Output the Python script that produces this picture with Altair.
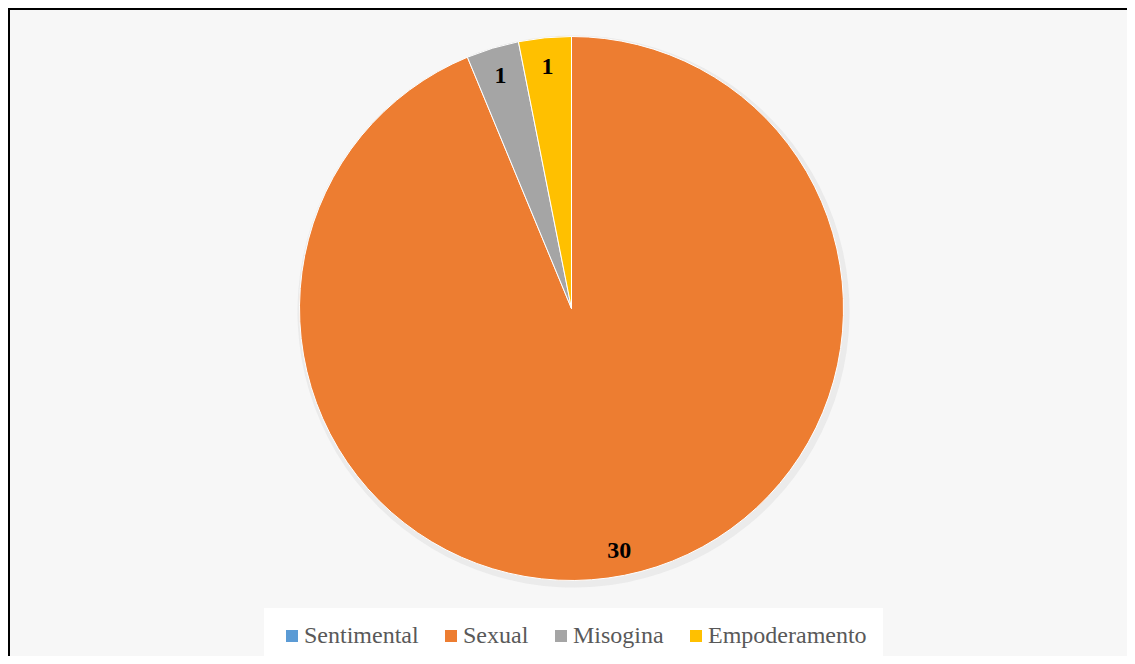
import altair as alt
import pandas as pd

categories = ["Sentimental", "Sexual", "Misogina", "Empoderamento"]
values = [0, 30, 1, 1]
colors = ["#5B9BD5", "#ED7D31", "#A5A5A5", "#FFC000"]

df = pd.DataFrame({"cat": categories, "val": values, "idx": list(range(len(categories)))})

cx, cy = 563.5, 300.5

base = alt.Chart(df).encode(
    theta=alt.Theta("val:Q", stack=True),
    order=alt.Order("idx:Q"),
)

shadow = alt.Chart(df).mark_arc(radius=276, color="#dcdcdc", opacity=0.45).encode(
    theta=alt.Theta("val:Q", stack=True),
    order=alt.Order("idx:Q"),
    x=alt.value(cx + 2), y=alt.value(cy + 3),
)

pie = base.mark_arc(radius=272, stroke="white", strokeWidth=1).encode(
    color=alt.Color(
        "cat:N",
        scale=alt.Scale(domain=categories, range=colors),
        sort=categories,
        legend=alt.Legend(
            title=None,
            orient="none",
            legendX=256,
            legendY=600,
            direction="horizontal",
            symbolType="square",
            symbolSize=144,
            symbolStrokeWidth=0,
            labelFont="Liberation Serif",
            labelFontSize=24,
            labelColor="#595959",
            labelOffset=0,
            columnPadding=20,
            fillColor="white",
            padding=16,
            labelLimit=300,
        ),
    ),
    x=alt.value(cx), y=alt.value(cy),
)

labels = base.transform_filter(alt.datum.val > 0).mark_text(
    radius=245, font="Liberation Serif", fontSize=24, fontWeight="bold", color="black"
).encode(
    text=alt.Text("val:Q"),
    x=alt.value(cx), y=alt.value(cy + 2),
)

top_border = alt.Chart(df).mark_rule(color="black", strokeWidth=2).encode(
    x=alt.value(0), x2=alt.value(1119), y=alt.value(1)
)
left_border = alt.Chart(df).mark_rule(color="black", strokeWidth=2).encode(
    x=alt.value(1), y=alt.value(0), y2=alt.value(648)
)

chart = alt.layer(shadow, pie, labels, top_border, left_border).properties(
    width=1119, height=648, padding=0,
    background="#f7f7f7",
    autosize=alt.AutoSizeParams(type="none"),
).configure_view(stroke=None, fill="#f7f7f7")

chart.save("out.html", embed_options={"renderer": "svg", "actions": False})
